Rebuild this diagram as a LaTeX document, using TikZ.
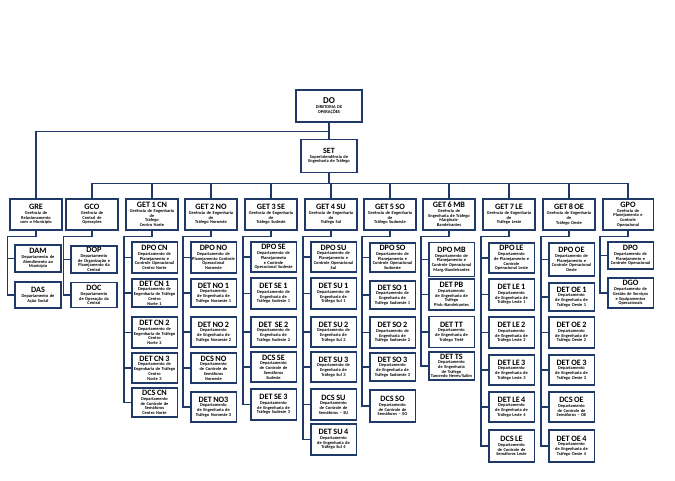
\documentclass[tikz,border=0pt]{standalone}
\usepackage{fontspec}
\setmainfont{Carlito}
\definecolor{navy}{HTML}{1F3A68}
\tikzset{
  box/.style={draw=navy, line width=1.6pt, fill=white, inner sep=0.8pt, align=center,
    font=\fontsize{4.4}{4.7}\selectfont\bfseries},
  lvtwo/.style={box, minimum width=52pt, minimum height=31pt, text width=49pt},
  lvthree/.style={box, minimum width=45pt, minimum height=30pt, text width=44pt},
  conn/.style={draw=navy, line width=1.3pt},
}
\newcommand{\ttl}[1]{{\fontsize{8.2}{8}\selectfont #1}}
\newcommand{\kid}[5]{\node[lvthree, minimum height=#4pt] (#1) at (#2,#3) {#5};}
\newcommand{\subtree}[3]{%
  \draw[conn] (#1.south) -- ++(0,6) -| ([xshift=-7pt]#2.west) -- (#2.west);
  \foreach \c in {#3} {\draw[conn] ([xshift=-7pt]\c.west) -- (\c.west);}
}
\begin{document}
\begin{tikzpicture}[x=1pt,y=-1pt]
\useasboundingbox[fill=white] (0,0) rectangle (675,481);
% top
\node[box, minimum width=66pt, minimum height=32pt, text width=62pt] (do) at (329,106)
  {{\fontsize{9}{9}\selectfont DO}\\DIRETORIA DE\\OPERAÇÕES};
\node[box, minimum width=56pt, minimum height=33pt, text width=53pt] (set) at (329,156)
  {{\fontsize{8}{8}\selectfont SET}\\Superintendência de\\Engenharia de Tráfego};
% level 2
\node[lvtwo] (gre) at (36,214.5) {\ttl{GRE}\\Gerência de\\Relacionamento\\com o Município};
\node[lvtwo] (gco) at (92,214.5) {\ttl{GCO}\\Gerência de\\Central de\\Operações};
\node[lvtwo] (ga) at (152,214.5) {\ttl{GET 1 CN}\\Gerência de Engenharia\\de\\Tráfego\\Centro Norte};
\node[lvtwo] (gb) at (211,214.5) {\ttl{GET 2 NO}\\Gerência de Engenharia\\de\\Tráfego Noroeste};
\node[lvtwo] (gc) at (271,214.5) {\ttl{GET 3 SE}\\Gerência de Engenharia\\de\\Tráfego Sudeste};
\node[lvtwo] (gd) at (331,214.5) {\ttl{GET 4 SU}\\Gerência de Engenharia\\de\\Tráfego Sul};
\node[lvtwo] (ge) at (390,214.5) {\ttl{GET 5 SO}\\Gerência de Engenharia\\de\\Tráfego Sudoeste};
\node[lvtwo] (gf) at (449,214.5) {\ttl{GET 6 MB}\\Gerência de\\Engenharia de Tráfego\\Marginais-\\Bandeirantes};
\node[lvtwo] (gg) at (509,214.5) {\ttl{GET 7 LE}\\Gerência de Engenharia\\de\\Tráfego Leste};
\node[lvtwo] (gh) at (569,214.5) {\ttl{GET 8 OE}\\Gerência de Engenharia\\de\\Tráfego Oeste};
\node[lvtwo, minimum width=50pt] (gpo) at (628,214.5) {\ttl{GPO}\\Gerência de\\Planejamento e\\Controle\\Operacional};
% connectors top
\draw[conn] (do.south) -- (set.north);
\draw[conn] (do.south) -- ++(0,9) -| (gre.north);
\foreach \g in {gco,ga,gb,gc,gd,ge,gf,gg,gh,gpo}
  {\draw[conn] (set.south) -- ++(0,10) -| (\g.north);}
% GRE
\kid{dam}{38}{258.5}{27}{\ttl{DAM}\\Departamento de\\Atendimento ao\\Município}
\kid{das}{38}{295}{26}{\ttl{DAS}\\Departamento de\\Ação Social}
\subtree{gre}{das}{dam}
% GCO
\kid{dop}{94}{259.5}{27}{\ttl{DOP}\\Departamento\\de Organização e\\Planejamento da\\Central}
\kid{doc}{94}{295}{25}{\ttl{DOC}\\Departamento\\de Operação da\\Central}
\subtree{gco}{doc}{dop}
% GET 1 CN
\kid{aa}{154.5}{257.5}{31}{\ttl{DPO CN}\\Departamento de\\Planejamento e\\Controle Operacional\\Centro Norte}
\kid{ab}{154.5}{293}{28}{\ttl{DET CN 1}\\Departamento de\\Engenharia de Tráfego\\Centro\\Norte 1}
\kid{ac}{154.5}{332.5}{31}{\ttl{DET CN 2}\\Departamento de\\Engenharia de Tráfego\\Centro\\Norte 2}
\kid{ad}{154.5}{368}{30}{\ttl{DET CN 3}\\Departamento de\\Engenharia de Tráfego\\Centro\\Norte 3}
\kid{ae}{154.5}{402.5}{29}{\ttl{DCS CN}\\Departamento\\de Controle de\\Semáforos\\Centro Norte}
\subtree{ga}{ae}{aa,ab,ac,ad}
% GET 2 NO
\kid{ba}{213.5}{257.5}{31}{\ttl{DPO NO}\\Departamento de\\Planejamento Controle\\Operacional\\Noroeste}
\kid{bb}{213.5}{293}{28}{\ttl{DET NO 1}\\Departamento\\de Engenharia de\\Tráfego Noroeste 1}
\kid{bc}{213.5}{332}{30}{\ttl{DET NO 2}\\Departamento\\de Engenharia de\\Tráfego Noroeste 2}
\kid{bd}{213.5}{368}{30}{\ttl{DCS NO}\\Departamento\\de Controle de\\Semáforos\\Noroeste}
\kid{be}{213.5}{407}{30}{\ttl{DET NO3}\\Departamento\\de Engenharia de\\Tráfego Noroeste 3}
\subtree{gb}{be}{ba,bb,bc,bd}
% GET 3 SE
\kid{ca}{273.5}{257}{30}{\ttl{DPO SE}\\Departamento de\\Planejamento\\e Controle\\Operacional Sudeste}
\kid{cb}{273.5}{293.5}{31}{\ttl{DET SE 1}\\Departamento de\\Engenharia de\\Tráfego Sudeste 1}
\kid{cc}{273.5}{332}{30}{\ttl{DET\ \ SE 2}\\Departamento de\\Engenharia de\\Tráfego Sudeste 2}
\kid{cd}{273.5}{367}{30}{\ttl{DCS SE}\\Departamento\\de Controle de\\Semáforos\\Sudeste}
\kid{ce}{273.5}{404.5}{31}{\ttl{DET SE 3}\\Departamento\\de Engenharia de\\Tráfego Sudeste 3}
\subtree{gc}{ce}{ca,cb,cc,cd}
% GET 4 SU
\kid{da}{333.5}{257}{30}{\ttl{DPO SU}\\Departamento de\\Planejamento e\\Controle Operacional\\Sul}
\kid{db}{333.5}{293.5}{31}{\ttl{DET SU 1}\\Departamento de\\Engenharia de\\Tráfego Sul 1}
\kid{dc}{333.5}{332}{30}{\ttl{DET SU 2}\\Departamento de\\Engenharia de\\Tráfego Sul 2}
\kid{dd}{333.5}{367}{30}{\ttl{DET SU 3}\\Departamento de\\Engenharia de\\Tráfego Sul 3}
\kid{de}{333.5}{404.5}{31}{\ttl{DCS SU}\\Departamento\\de Controle de\\Semáforos -- SU}
\kid{df}{333.5}{439.5}{31}{\ttl{DET SU 4}\\Departamento\\de Engenharia de\\Tráfego Sul 4}
\subtree{gd}{df}{da,db,dc,dd,de}
% GET 5 SO
\kid{ea}{392.5}{257.5}{29}{\ttl{DPO SO}\\Departamento de\\Planejamento e\\Controle Operacional\\Sudoeste}
\kid{eb}{392.5}{295}{28}{\ttl{DET SO 1}\\Departamento de\\Engenharia de\\Tráfego Sudoeste 1}
\kid{ec}{392.5}{332.5}{31}{\ttl{DET SO 2}\\Departamento de\\Engenharia de\\Tráfego Sudoeste 2}
\kid{ed}{392.5}{367}{28}{\ttl{DET SO 3}\\Departamento\\de Engenharia de\\Tráfego Sudoeste 3}
\kid{ee}{392.5}{406}{32}{\ttl{DCS SO}\\Departamento\\de Controle de\\Semáforos -- SO}
\subtree{ge}{ee}{ea,eb,ec,ed}
% GET 6 MB
\kid{fa}{451.5}{259.5}{34}{\ttl{DPO MB}\\Departamento de\\Planejamento e\\Controle Operacional\\Marg.-Bandeirantes}
\kid{fb}{451.5}{294.5}{31}{\ttl{DET PB}\\Departamento\\de Engenharia de\\Tráfego\\Pinh.-Bandeirantes}
\kid{fc}{451.5}{332}{31}{\ttl{DET TT}\\Departamento\\de Engenharia de\\Tráfego Tietê}
\kid{fd}{451.5}{366}{28}{\ttl{DET TS}\\Departamento\\de Engenharia\\de Tráfego\\Tancredo Neves/Salim}
\subtree{gf}{fd}{fa,fb,fc}
% GET 7 LE
\kid{ha}{511.5}{258}{30}{\ttl{DPO LE}\\Departamento\\de Planejamento e\\Controle\\Operacional Leste}
\kid{hb}{511.5}{294.5}{31}{\ttl{DET LE 1}\\Departamento\\de Engenharia de\\Tráfego Leste 1}
\kid{hc}{511.5}{332.5}{31}{\ttl{DET LE 2}\\Departamento\\de Engenharia de\\Tráfego Leste 2}
\kid{hd}{511.5}{370}{30}{\ttl{DET LE 3}\\Departamento\\de Engenharia de\\Tráfego Leste 3}
\kid{he}{511.5}{407}{30}{\ttl{DET LE 4}\\Departamento\\de Engenharia de\\Tráfego Leste 4}
\kid{hf}{511.5}{446}{32}{\ttl{DCS LE}\\Departamento\\de Controle de\\Semáforos Leste}
\subtree{gg}{hf}{ha,hb,hc,hd,he}
% GET 8 OE
\kid{ia}{571.5}{259.5}{33}{\ttl{DPO OE}\\Departamento de\\Planejamento e\\Controle Operacional\\Oeste}
\kid{ib}{571.5}{297}{28}{\ttl{DET OE 1}\\Departamento\\de Engenharia de\\Tráfego Oeste 1}
\kid{ic}{571.5}{332.5}{31}{\ttl{DET OE 2}\\Departamento\\de Engenharia de\\Tráfego Oeste 2}
\kid{id}{571.5}{370}{30}{\ttl{DET OE 3}\\Departamento\\de Engenharia de\\Tráfego Oeste 3}
\kid{ie}{571.5}{407}{30}{\ttl{DCS OE}\\Departamento\\de Controle de\\Semáforos -- OE}
\kid{if}{571.5}{446}{32}{\ttl{DET OE 4}\\Departamento\\de Engenharia de\\Tráfego Oeste 4}
\subtree{gh}{if}{ia,ib,ic,id,ie}
% GPO
\kid{pa}{630.5}{255.5}{27}{\ttl{DPO}\\Departamento de\\Planejamento e\\Controle Operacional}
\kid{pb}{630.5}{293}{30}{\ttl{DGO}\\Departamento de\\Gestão de Serviços\\e Equipamentos\\Operacionais}
\subtree{gpo}{pb}{pa}
\end{tikzpicture}
\end{document}
